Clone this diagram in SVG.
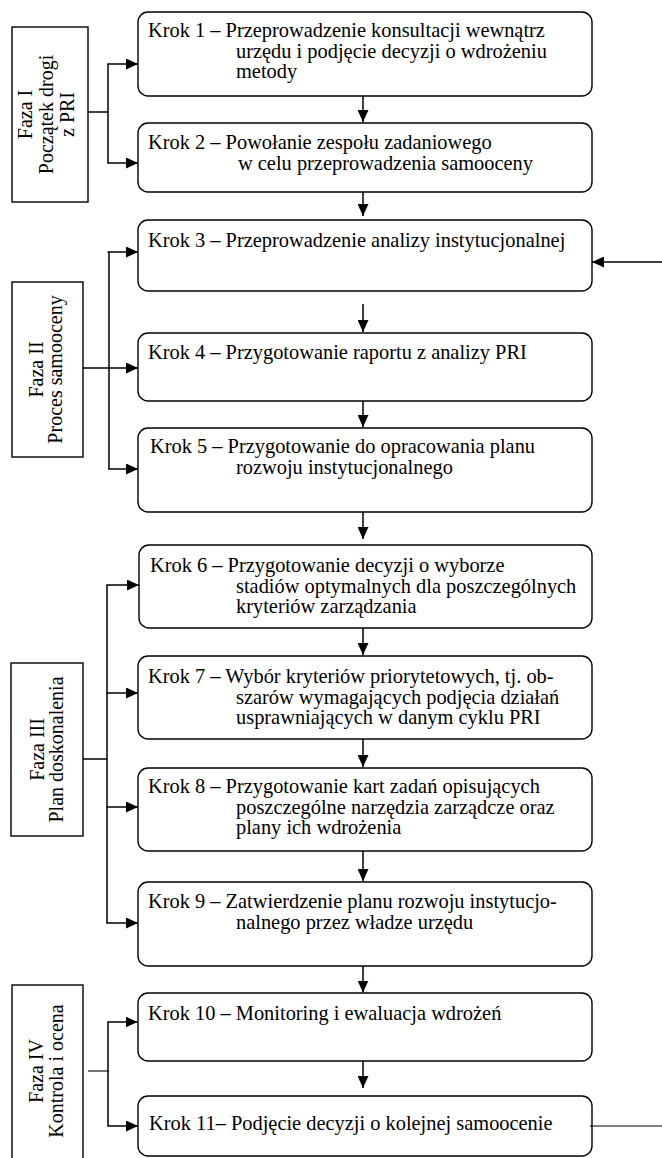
<svg xmlns="http://www.w3.org/2000/svg" width="662" height="1158" viewBox="0 0 662 1158">
<style>
.step{fill:#fff;stroke:#000;stroke-width:1.4}
.phase{fill:#fff;stroke:#000;stroke-width:1.4}
.t{font-family:"Liberation Serif","Times New Roman",serif;font-size:20.4px;fill:#000}
.pt{font-family:"Liberation Serif","Times New Roman",serif;font-size:20px;fill:#000;text-anchor:middle}
.c{fill:none;stroke:#000;stroke-width:1.5}
.ca{fill:none;stroke:#000;stroke-width:1.5;marker-end:url(#ah)}
</style>
<defs>
<marker id="ah" markerUnits="userSpaceOnUse" markerWidth="12" markerHeight="11" refX="12" refY="5.5" orient="auto">
<path d="M0,0 L12,5.5 L0,11 Z" fill="#000"/>
</marker>
</defs>
<rect width="662" height="1158" fill="#fff"/>

<g id="faza1">
<rect class="phase" x="12" y="27" width="76" height="175"/>
<text class="pt" transform="translate(0,114.5) rotate(-90)"><tspan x="0" y="32">Faza I</tspan><tspan x="0" y="53">Początek drogi</tspan><tspan x="0" y="74">z PRI</tspan></text>
</g>
<g id="faza2">
<rect class="phase" x="12" y="282" width="71" height="175"/>
<text class="pt" transform="translate(0,369.5) rotate(-90)"><tspan x="0" y="43">Faza II</tspan><tspan x="0" y="61.5">Proces samooceny</tspan></text>
</g>
<g id="faza3">
<rect class="phase" x="11" y="663" width="72" height="173"/>
<text class="pt" transform="translate(0,749.5) rotate(-90)"><tspan x="0" y="44">Faza III</tspan><tspan x="0" y="62.5">Plan doskonalenia</tspan></text>
</g>
<g id="faza4">
<rect class="phase" x="12" y="985" width="71" height="185"/>
<text class="pt" transform="translate(0,1071) rotate(-90)"><tspan x="0" y="42.5">Faza IV</tspan><tspan x="0" y="63">Kontrola i ocena</tspan></text>
</g>

<g id="krok1">
<rect class="step" x="138" y="12" width="454" height="84" rx="10"/>
<text class="t"><tspan x="148" y="37.3">Krok 1 – Przeprowadzenie konsultacji wewnątrz</tspan><tspan x="236" y="57.8">urzędu i podjęcie decyzji o wdrożeniu</tspan><tspan x="236" y="78.3">metody</tspan></text>
</g>
<g id="krok2">
<rect class="step" x="138" y="123" width="454" height="69" rx="10"/>
<text class="t"><tspan x="148" y="149">Krok 2 – Powołanie zespołu zadaniowego</tspan><tspan x="238" y="169.5">w celu przeprowadzenia samooceny</tspan></text>
</g>
<g id="krok3">
<rect class="step" x="138" y="220" width="454" height="71" rx="10"/>
<text class="t"><tspan x="148" y="247">Krok 3 – Przeprowadzenie analizy instytucjonalnej</tspan></text>
</g>
<g id="krok4">
<rect class="step" x="138" y="333" width="454" height="68" rx="10"/>
<text class="t"><tspan x="148" y="359">Krok 4 – Przygotowanie raportu z analizy PRI</tspan></text>
</g>
<g id="krok5">
<rect class="step" x="138" y="428" width="454" height="84" rx="10"/>
<text class="t"><tspan x="150" y="453.3">Krok 5 – Przygotowanie do opracowania planu</tspan><tspan x="236" y="473.8">rozwoju instytucjonalnego</tspan></text>
</g>
<g id="krok6">
<rect class="step" x="139" y="545" width="453" height="83" rx="10"/>
<text class="t"><tspan x="150" y="572">Krok 6 – Przygotowanie decyzji o wyborze</tspan><tspan x="236" y="592.5">stadiów optymalnych dla poszczególnych</tspan><tspan x="236" y="613">kryteriów zarządzania</tspan></text>
</g>
<g id="krok7">
<rect class="step" x="138" y="656" width="454" height="83" rx="10"/>
<text class="t"><tspan x="148" y="683">Krok 7 – Wybór kryteriów priorytetowych, tj. ob-</tspan><tspan x="236" y="703.5">szarów wymagających podjęcia działań</tspan><tspan x="236" y="724">usprawniających w danym cyklu PRI</tspan></text>
</g>
<g id="krok8">
<rect class="step" x="138" y="768" width="454" height="83" rx="10"/>
<text class="t"><tspan x="148" y="793.3">Krok 8 – Przygotowanie kart zadań opisujących</tspan><tspan x="236" y="813.8">poszczególne narzędzia zarządcze oraz</tspan><tspan x="236" y="834.3">plany ich wdrożenia</tspan></text>
</g>
<g id="krok9">
<rect class="step" x="138" y="882" width="454" height="84" rx="10"/>
<text class="t"><tspan x="148" y="908.3">Krok 9 – Zatwierdzenie planu rozwoju instytucjo-</tspan><tspan x="236" y="928.8">nalnego przez władze urzędu</tspan></text>
</g>
<g id="krok10">
<rect class="step" x="138" y="993" width="454" height="68" rx="10"/>
<text class="t"><tspan x="148" y="1020">Krok 10 – Monitoring i ewaluacja wdrożeń</tspan></text>
</g>
<g id="krok11">
<rect class="step" x="138" y="1096" width="454" height="60" rx="10"/>
<text class="t"><tspan x="149" y="1130">Krok 11– Podjęcie decyzji o kolejnej samoocenie</tspan></text>
</g>

<g id="connectors">
<!-- sequential arrows -->
<line class="ca" x1="363" y1="96" x2="363" y2="122"/>
<line class="ca" x1="363" y1="192" x2="363" y2="216"/>
<line class="ca" x1="363" y1="304" x2="363" y2="332"/>
<line class="ca" x1="363" y1="401" x2="363" y2="427"/>
<line class="ca" x1="363" y1="512" x2="363" y2="539"/>
<line class="ca" x1="363" y1="628" x2="363" y2="655"/>
<line class="ca" x1="363" y1="739" x2="363" y2="767"/>
<line class="ca" x1="363" y1="851" x2="363" y2="881"/>
<line class="ca" x1="363" y1="966" x2="363" y2="992.5"/>
<line class="ca" x1="363" y1="1061" x2="363" y2="1088"/>
<!-- Faza I -->
<line class="c" x1="88" y1="112" x2="108" y2="112"/>
<path class="c" d="M108,64 V163"/>
<line class="ca" x1="107.3" y1="64" x2="138" y2="64"/>
<line class="ca" x1="107.3" y1="163" x2="138" y2="163"/>
<!-- Faza II -->
<path class="c" d="M109,252 V469"/>
<line class="ca" x1="107.5" y1="252" x2="138" y2="252"/>
<line class="ca" x1="83" y1="368" x2="138" y2="368"/>
<line class="ca" x1="108.3" y1="469" x2="138" y2="469"/>
<!-- Faza III -->
<line class="c" x1="83" y1="759" x2="107" y2="759"/>
<path class="c" d="M107,585 V923"/>
<line class="ca" x1="106.3" y1="585" x2="139" y2="585"/>
<line class="ca" x1="106.3" y1="693" x2="138" y2="693"/>
<line class="ca" x1="106.3" y1="807" x2="138" y2="807"/>
<line class="ca" x1="106.3" y1="923" x2="138" y2="923"/>
<!-- Faza IV -->
<line class="c" x1="88" y1="1071" x2="109" y2="1071" style="stroke-width:1.1"/>
<path class="c" d="M108,1022 V1126"/>
<line class="ca" x1="107.3" y1="1022" x2="137.5" y2="1022"/>
<line class="ca" x1="107.3" y1="1126" x2="138" y2="1126"/>
<!-- loop -->
<line class="ca" x1="662" y1="262" x2="592" y2="262"/>
<line class="c" x1="590" y1="1126" x2="662" y2="1126" style="stroke-width:1.1"/>
</g>
</svg>
